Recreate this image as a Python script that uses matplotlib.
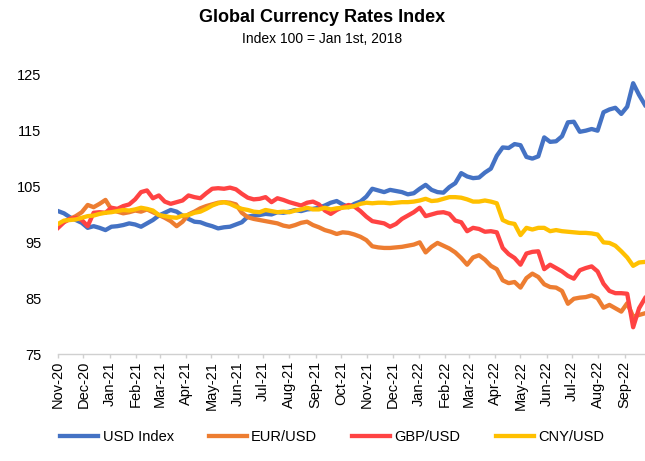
import numpy as np
import pandas as pd
import matplotlib
matplotlib.use('Agg')
import matplotlib.pyplot as plt
import matplotlib.dates as mdates

plt.rcParams['font.family'] = ['Liberation Sans', 'DejaVu Sans']

# weekly samples
fechas = pd.date_range('2020-11-01', periods=100, freq='7D')

usd = [100.6, 100.2, 99.5, 99.0, 98.5, 97.6, 97.9, 97.6, 97.2, 97.8,
       97.9, 98.1, 98.4, 98.2, 97.8, 98.4, 99.0, 99.8, 100.3, 100.8,
       100.5, 99.8, 99.2, 98.7, 98.6, 98.2, 97.9, 97.5, 97.7, 97.8,
       98.2, 98.6, 99.6, 99.8, 99.9, 100.1, 100.0, 100.4, 100.3, 100.5,
       100.8, 100.6, 100.9, 101.0, 101.2, 101.6, 102.1, 102.4, 101.8, 101.3,
       101.9, 102.3, 103.2, 104.6, 104.3, 104.0, 104.4, 104.2, 104.0, 103.6,
       103.8, 104.6, 105.3, 104.4, 104.0, 103.9, 104.9, 105.6, 107.4, 106.8,
       106.5, 106.6, 107.5, 108.2, 110.5, 112.0, 111.9, 112.6, 112.4, 110.3,
       110.0, 110.4, 113.8, 113.0, 113.1, 114.0, 116.5, 116.6, 114.8, 115.0,
       115.3, 115.0, 118.3, 118.8, 119.1, 118.0, 119.3, 123.5, 121.4, 119.6]

eur = [98.0, 98.7, 99.2, 99.7, 100.4, 101.7, 101.3, 101.9, 102.6, 100.9,
       100.5, 100.2, 100.4, 100.7, 100.5, 100.9, 100.4, 99.9, 99.4, 98.8,
       97.9, 98.7, 100.0, 100.5, 101.1, 101.5, 101.8, 102.1, 102.2, 102.1,
       101.8, 100.3, 99.5, 99.2, 99.0, 98.8, 98.6, 98.4, 98.0, 97.8,
       98.1, 98.5, 98.7, 98.1, 97.7, 97.2, 96.9, 96.5, 96.8, 96.7,
       96.4, 96.0, 95.4, 94.3, 94.1, 94.0, 94.0, 94.1, 94.2, 94.4,
       94.6, 95.0, 93.2, 94.2, 94.9, 94.4, 93.9, 93.2, 92.2, 91.0,
       92.3, 92.7, 91.9, 90.8, 90.2, 88.2, 87.7, 87.9, 86.9, 88.6,
       89.4, 88.8, 87.5, 87.0, 86.9, 86.3, 84.0, 84.9, 85.1, 85.2,
       85.5, 85.0, 83.3, 83.8, 83.2, 82.6, 84.1, 81.7, 82.0, 82.3]

gbp = [97.6, 98.6, 99.2, 99.4, 99.0, 97.9, 100.3, 100.4, 100.3, 101.2,
       101.0, 101.5, 101.8, 102.7, 104.0, 104.3, 102.9, 103.4, 102.3, 101.9,
       102.2, 102.5, 103.4, 103.1, 102.9, 103.8, 104.6, 104.7, 104.6, 104.8,
       104.5, 103.7, 103.0, 102.7, 102.8, 103.1, 102.2, 102.9, 102.6, 102.2,
       101.9, 101.6, 102.1, 102.3, 101.8, 100.7, 100.1, 100.8, 101.3, 101.7,
       101.4, 100.6, 99.6, 98.8, 98.6, 98.4, 97.8, 98.3, 99.2, 99.8,
       100.4, 101.2, 99.7, 100.0, 100.3, 100.4, 100.1, 98.9, 98.6, 97.0,
       97.6, 97.4, 96.9, 97.0, 96.8, 94.0, 92.9, 92.2, 91.0, 93.0,
       93.3, 93.4, 90.2, 91.0, 90.4, 89.8, 89.0, 88.5, 90.0, 90.4,
       90.7, 89.8, 87.6, 86.3, 85.9, 85.9, 85.8, 79.8, 83.2, 85.0]

cny = [98.3, 98.9, 99.0, 99.1, 99.4, 99.7, 99.8, 100.1, 100.3, 100.4,
       100.6, 100.8, 100.7, 100.9, 101.2, 101.0, 100.7, 99.9, 99.7, 99.5,
       99.4, 99.8, 99.9, 100.3, 100.5, 101.0, 101.6, 102.0, 102.2, 101.9,
       101.4, 101.0, 100.8, 100.5, 100.4, 100.8, 100.6, 100.4, 100.5, 100.4,
       100.7, 100.9, 101.2, 100.9, 100.9, 101.2, 100.9, 101.1, 101.2, 101.3,
       101.5, 101.9, 102.1, 102.0, 102.1, 102.1, 102.0, 102.1, 102.2, 102.2,
       102.3, 102.5, 102.8, 102.4, 102.5, 102.8, 103.1, 103.1, 103.0, 102.7,
       102.3, 102.3, 102.5, 102.3, 102.0, 99.0, 98.5, 98.3, 96.3, 97.6,
       97.3, 97.6, 97.6, 97.0, 97.2, 97.0, 96.9, 96.8, 96.7, 96.7,
       96.6, 96.4, 95.0, 94.9, 94.4, 93.4, 92.3, 90.8, 91.4, 91.5]

series = [('USD Index', usd, '#4472C4'),
          ('EUR/USD', eur, '#ED7D31'),
          ('GBP/USD', gbp, '#FF4343'),
          ('CNY/USD', cny, '#FFC000')]

fig = plt.figure(figsize=(6.45, 4.61), dpi=100)
ax = fig.add_axes([0.09, 0.232, 0.91, 0.642])

for nombre, vals, clr in series:
    ax.plot(fechas, vals, '-', color=clr, linewidth=3.1, label=nombre,
            solid_joinstyle='round')

ax.set_ylim(75, 128)
ax.set_yticks(np.arange(75, 126, 10))
ax.set_xlim(fechas[0], fechas[-1])
ax.xaxis.set_major_locator(mdates.MonthLocator())
ax.xaxis.set_major_formatter(mdates.DateFormatter('%b-%y'))

for s in ['top', 'right', 'left']:
    ax.spines[s].set_visible(False)
ax.spines['bottom'].set_color('#d0d0d0')
ax.spines['bottom'].set_linewidth(1.0)
ax.tick_params(axis='y', length=0, pad=12, labelsize=10.5)
ax.tick_params(axis='x', length=3, color='#d0d0d0', width=1.0,
               labelsize=10.5, labelrotation=90, pad=2)

fig.text(0.5, 0.962, 'Global Currency Rates Index', ha='center', va='center',
         fontsize=13, fontweight='bold')
fig.text(0.5, 0.915, 'Index 100 = Jan 1st, 2018', ha='center', va='center',
         fontsize=10)

fig.legend(loc='center', bbox_to_anchor=(0.515, 0.052), ncol=4, frameon=False,
           fontsize=10.5, handlelength=2.6, columnspacing=2.4, handletextpad=0.3)

plt.savefig('out.png', dpi=100)
